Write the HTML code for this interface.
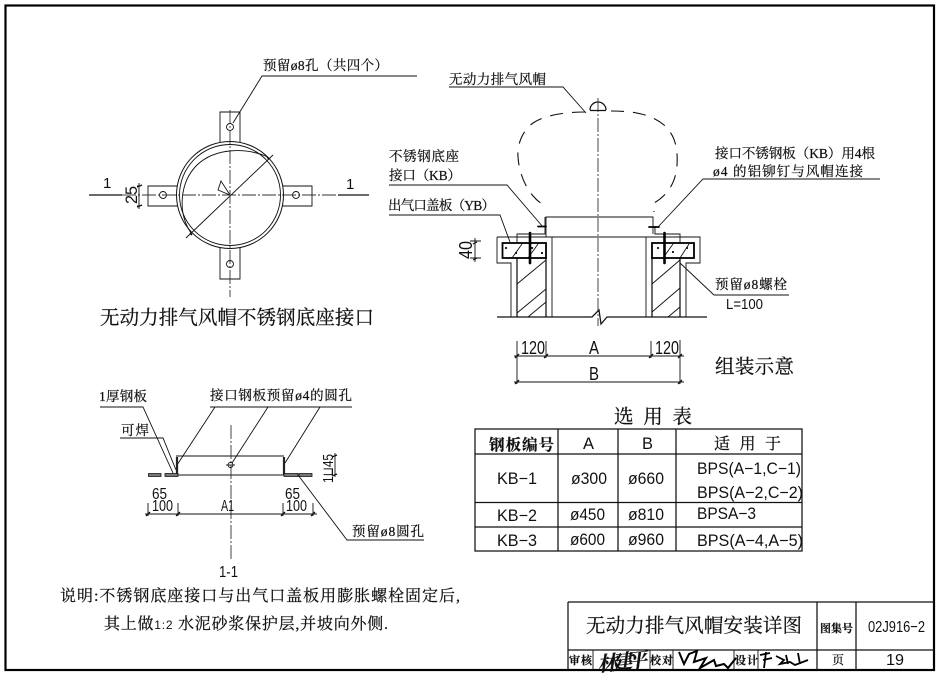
<!DOCTYPE html>
<html><head><meta charset="utf-8"><style>
html,body{margin:0;padding:0;background:#fff}
svg{display:block}
text{font-family:"Liberation Serif","Noto Serif CJK SC",serif;fill:#111;font-size:13.5px;stroke:#111;stroke-width:.22}
.s{font-family:"Liberation Sans",sans-serif;font-size:15px;stroke-width:0}
.t{stroke:#111;stroke-width:.9;fill:none}
.m{stroke:#111;stroke-width:1.25;fill:none}
.c{stroke:#333;stroke-width:.9;fill:none;stroke-dasharray:14 2 2 2}
.d{stroke:#111;stroke-width:1.1;fill:none;stroke-dasharray:13 9}
</style></head><body>
<svg width="944" height="678" viewBox="0 0 944 678" xmlns="http://www.w3.org/2000/svg">
<rect width="944" height="678" fill="#fff"/>
<rect x="5.500" y="5.500" width="928.500" height="664.500" fill="none" stroke="#000" stroke-width="2.200"/>

<!-- plan view -->
<path class="t" d="M220 143V112H240V143M220 247V279H240V247M178 186H148V206H178M282 186H312V206H282"/>
<circle cx="230" cy="195" r="53.500" fill="#fff" stroke="#111" stroke-width="1"/>
<circle class="t" cx="230" cy="195" r="50.500"/>
<path class="t" d="M268 157C245 147 215 148 197 165C180 182 177 212 191 233"/>
<path class="t" d="M186 238L273 155"/>
<path d="M190 233l2 2M267 157l2 2" stroke="#000" stroke-width="1.500"/>
<path class="t" d="M218 190L230 195L221 181Z" fill="#fff"/>
<circle class="t" cx="230" cy="127" r="3.500"/><circle class="t" cx="230" cy="264" r="3.500"/>
<circle class="t" cx="163" cy="195" r="3.500"/><circle class="t" cx="296" cy="195" r="3.500"/>
<path class="c" d="M230 110V297"/>
<path class="c" d="M122 195H338"/>
<path class="m" d="M89 195H122M338 195H369"/>
<path class="t" d="M140 186H137M140 206H137M139 183V209"/>
<path class="m" d="M137 187l5-2M137 207l5-2"/>
<text class="s" x="103" y="188" style="font-size:15px">1</text>
<text class="s" x="346" y="189" style="font-size:15px">1</text>
<text class="s" transform="translate(137,204) rotate(-90)" textLength="18" lengthAdjust="spacingAndGlyphs" style="font-size:17px">25</text>
<path class="t" d="M233 123L262 76H417"/>
<text x="263" y="70" textLength="125">预留ø8孔（共四个）</text>
<text x="100" y="324" textLength="274" style="font-size:19.500px">无动力排气风帽不锈钢底座接口</text>

<!-- assembly -->
<path class="d" d="M585 112C565 112 545 115 533 123C522 131 517 145 518 157C519 172 525 188 535 198C538 202 542 202 542 207"/>
<path class="d" d="M611 111C630 111 650 113 664 125C675 135 678 148 677 165C676 182 668 195 654 203V212"/>
<path class="m" d="M590 110A8 8 0 0 1 606 110M590 110.500H606"/>
<path class="c" d="M598 98V326"/>
<path class="t" d="M546 237V217H653V234"/>
<path class="t" d="M497 237H700V263H686V317M497 237V263H511V317M552 237V317M646 237V317"/>
<path class="m" d="M517 258V317M546 258V317M652 258V317M680 258V317"/>
<path class="t" d="M517 284L546 260M517 313L546 289M528 317L546 302M652 284L680 260M652 312L680 288M668 317L680 307"/>
<rect x="502.500" y="243" width="43.500" height="15" fill="#fff" stroke="#000" stroke-width="1.800"/>
<rect x="652" y="243" width="42" height="15" fill="#fff" stroke="#000" stroke-width="1.800"/>
<path class="t" d="M512 258L522 244M528 258L538 244M663 258L673 244M680 258L689 244"/>
<path d="M505 247h2v2h-2zM515 252h2v2h-2zM531 247h2v2h-2zM541 252h2v2h-2zM657 247h2v2h-2zM672 251h2v2h-2zM686 247h2v2h-2z" fill="#222"/>
<path d="M530 233V263M664.500 233V263" stroke="#000" stroke-width="2.600" stroke-linecap="round"/>
<path class="t" d="M517 243V234H545V217M680 243V234H655V226"/>
<path d="M538 226.500H546M649 227H659" stroke="#000" stroke-width="1.800" stroke-linecap="round"/>
<path class="m" d="M497 317H592L599 310L601 324L607 317H707"/>

<path class="t" d="M449 87H563L586 113"/>
<text x="449" y="84" textLength="97">无动力排气风帽</text>
<text x="389" y="161" textLength="70">不锈钢底座</text>
<text x="389" y="180" textLength="72">接口（KB）</text>
<path class="t" d="M389 185H507L543 227"/>
<text x="388" y="210" textLength="107">出气口盖板（YB）</text>
<path class="t" d="M389 215H500L510 242"/>
<path class="t" d="M470 241H481M470 258H481M475 238V262"/>
<path class="m" d="M473 244l4-2M473 260l4-2"/>
<text class="s" transform="translate(472,259) rotate(-90)" textLength="18" lengthAdjust="spacingAndGlyphs" style="font-size:18px">40</text>
<text x="715" y="158" textLength="160">接口不锈钢板（KB）用4根</text>
<text x="713" y="176" textLength="150">ø4 的铝铆钉与风帽连接</text>
<path class="t" d="M880 179H703L658 227"/>
<text x="715" y="289" textLength="72">预留ø8螺栓</text>
<path class="t" d="M789 295H714L680 263"/>
<text class="s" x="726" y="309" textLength="37" lengthAdjust="spacingAndGlyphs" style="font-size:14.500px">L=100</text>
<text x="715" y="373" textLength="79" style="font-size:19.500px">组装示意</text>

<path class="t" d="M514 356H684M514 382H684M517 341V384M546 341V358M651 341V358M680 340V384"/>
<path class="m" d="M515 358l4-4M544 358l4-4M649 358l4-4M678 358l4-4M515 384l4-4M678 384l4-4"/>
<text class="s" x="521" y="354" textLength="24" lengthAdjust="spacingAndGlyphs" style="font-size:18px">120</text>
<text class="s" x="589" y="354" textLength="10" lengthAdjust="spacingAndGlyphs" style="font-size:18px">A</text>
<text class="s" x="655" y="354" textLength="24" lengthAdjust="spacingAndGlyphs" style="font-size:18px">120</text>
<text class="s" x="589" y="380" textLength="10" lengthAdjust="spacingAndGlyphs" style="font-size:18px">B</text>

<!-- section 1-1 -->
<text x="99" y="401" textLength="48">1厚钢板</text>
<path class="t" d="M100 407H143L173 473"/>
<text x="121" y="435" textLength="28">可焊</text>
<path class="t" d="M120 438H163L176 470"/>
<text x="210" y="400" textLength="142">接口钢板预留ø4的圆孔</text>
<path class="t" d="M210 407H352M215 407L177 465M268 407L232 463M320 407L285 463"/>
<path class="t" d="M176 456H284M178 475H284"/>
<path d="M177 457V475M284 457V475" stroke="#222" stroke-width="2.200"/>
<path d="M148.500 473.500H161V476.500H148.500ZM165 473.500H178V476.500H165Z" fill="#777" stroke="#111" stroke-width=".8"/>
<path d="M284 473.500H298V476.500H284ZM299 473.500H312V476.500H299Z" fill="#777" stroke="#111" stroke-width=".8"/>
<path class="c" d="M231 425V560"/>
<circle class="t" cx="230.500" cy="465" r="2.500"/>
<path class="t" d="M226 465H235"/>
<path class="t" d="M298 475L347 540H424"/>
<text x="352" y="536" textLength="72">预留ø8圆孔</text>
<path class="t" d="M335 453V477"/>
<path class="m" d="M332 457l5-2M332 476l5-2"/>
<text class="s" transform="translate(333,483) rotate(-90)" textLength="29" lengthAdjust="spacingAndGlyphs" style="font-size:15px">1⊔45</text>
<path class="t" d="M145 514H317M148 503V516M178 503V516M283 503V516M313 503V516"/>
<path class="m" d="M146 516l4-4M176 516l4-4M281 516l4-4M311 516l4-4"/>
<text class="s" x="152" y="499" textLength="15" lengthAdjust="spacingAndGlyphs" style="font-size:16px">65</text>
<text class="s" x="152" y="511" textLength="21" lengthAdjust="spacingAndGlyphs" style="font-size:16px">100</text>
<text class="s" x="221" y="511" textLength="13" lengthAdjust="spacingAndGlyphs" style="font-size:16px">A1</text>
<text class="s" x="285" y="499" textLength="15" lengthAdjust="spacingAndGlyphs" style="font-size:16px">65</text>
<text class="s" x="286" y="511" textLength="21" lengthAdjust="spacingAndGlyphs" style="font-size:16px">100</text>
<text class="s" x="219" y="577" textLength="19" lengthAdjust="spacingAndGlyphs" style="font-size:16px">1-1</text>

<!-- notes -->
<text x="60" y="601" textLength="400" style="font-size:16px">说明:不锈钢底座接口与出气口盖板用膨胀螺栓固定后,</text>
<text x="104" y="629" textLength="284" style="font-size:16px">其上做<tspan class="s" style="font-size:12px">1:2</tspan> 水泥砂浆保护层,并坡向外侧.</text>

<!-- table -->
<text x="614" y="423" textLength="78" style="font-size:19.500px">选 用 表</text>
<path class="m" d="M475 429H802V551H475ZM475 454H802M475 502.500H802M475 527H802M558 429V551M618 429V551M676 429V551"/>
<text x="489" y="450" textLength="65" style="font-size:15.500px;font-weight:bold">钢板编号</text>
<text class="s" x="583" y="449" textLength="11" lengthAdjust="spacingAndGlyphs" style="font-size:17px">A</text>
<text class="s" x="642" y="449" textLength="11" lengthAdjust="spacingAndGlyphs" style="font-size:17px">B</text>
<text x="714" y="449" textLength="67" style="font-size:16px">适 用 于</text>
<text class="s" x="497" y="484" textLength="40" lengthAdjust="spacingAndGlyphs" style="font-size:16.500px">KB−1</text>
<text class="s" x="571" y="484" textLength="36" lengthAdjust="spacingAndGlyphs" style="font-size:17px">ø300</text>
<text class="s" x="628" y="484" textLength="36" lengthAdjust="spacingAndGlyphs" style="font-size:17px">ø660</text>
<text class="s" x="697" y="474" textLength="104" lengthAdjust="spacingAndGlyphs" style="font-size:16.500px">BPS(A−1,C−1)</text>
<text class="s" x="697" y="498" textLength="106" lengthAdjust="spacingAndGlyphs" style="font-size:16.500px">BPS(A−2,C−2)</text>
<text class="s" x="497" y="521" textLength="40" lengthAdjust="spacingAndGlyphs" style="font-size:16.500px">KB−2</text>
<text class="s" x="570" y="520" textLength="35" lengthAdjust="spacingAndGlyphs" style="font-size:17px">ø450</text>
<text class="s" x="628" y="520" textLength="36" lengthAdjust="spacingAndGlyphs" style="font-size:17px">ø810</text>
<text class="s" x="697" y="519" textLength="59" lengthAdjust="spacingAndGlyphs" style="font-size:16.500px">BPSA−3</text>
<text class="s" x="497" y="546" textLength="40" lengthAdjust="spacingAndGlyphs" style="font-size:16.500px">KB−3</text>
<text class="s" x="570" y="545" textLength="35" lengthAdjust="spacingAndGlyphs" style="font-size:17px">ø600</text>
<text class="s" x="628" y="545" textLength="36" lengthAdjust="spacingAndGlyphs" style="font-size:17px">ø960</text>
<text class="s" x="697" y="546" textLength="106" lengthAdjust="spacingAndGlyphs" style="font-size:16.500px">BPS(A−4,A−5)</text>

<!-- title block -->
<path class="m" d="M568 602H934M568 602V670M568 650H934M817 602V670M856 602V670"/>
<path class="t" d="M593 650V670M650 650V670M673 650V670M734 650V670M758 650V670"/>
<text x="586" y="632" textLength="216" style="font-size:19.500px">无动力排气风帽安装详图</text>
<text x="820" y="632" textLength="33" style="font-size:11px;font-weight:bold">图集号</text>
<text class="s" x="868" y="632" textLength="57" lengthAdjust="spacingAndGlyphs" style="font-size:16px">02J916−2</text>
<text x="569" y="664" textLength="23" style="font-size:11px;font-weight:bold">审核</text>
<text x="650" y="664" textLength="23" style="font-size:11px;font-weight:bold">校对</text>
<text x="735" y="664" textLength="23" style="font-size:11px;font-weight:bold">设计</text>
<text x="832" y="664" style="font-size:12px">页</text>
<text class="s" x="886" y="665" textLength="18" lengthAdjust="spacingAndGlyphs" style="font-size:16px">19</text>
<text x="597" y="669" textLength="50" transform="rotate(-6 620 660)" style="font-size:20px;font-style:italic;font-weight:bold">林建平</text>
<path d="M679 652L684 664L689 654L697 651L694 662L706 658L700 668L714 660L716 666L724 664L728 668L736 658" fill="none" stroke="#000" stroke-width="2"/>
<path d="M760 655L770 653M763 660L772 658M766 652L764 668M776 656L784 660L780 664L790 662L795 665L808 660M798 653L800 664M786 655L788 664" fill="none" stroke="#000" stroke-width="1.800"/>
</svg>
</body></html>
